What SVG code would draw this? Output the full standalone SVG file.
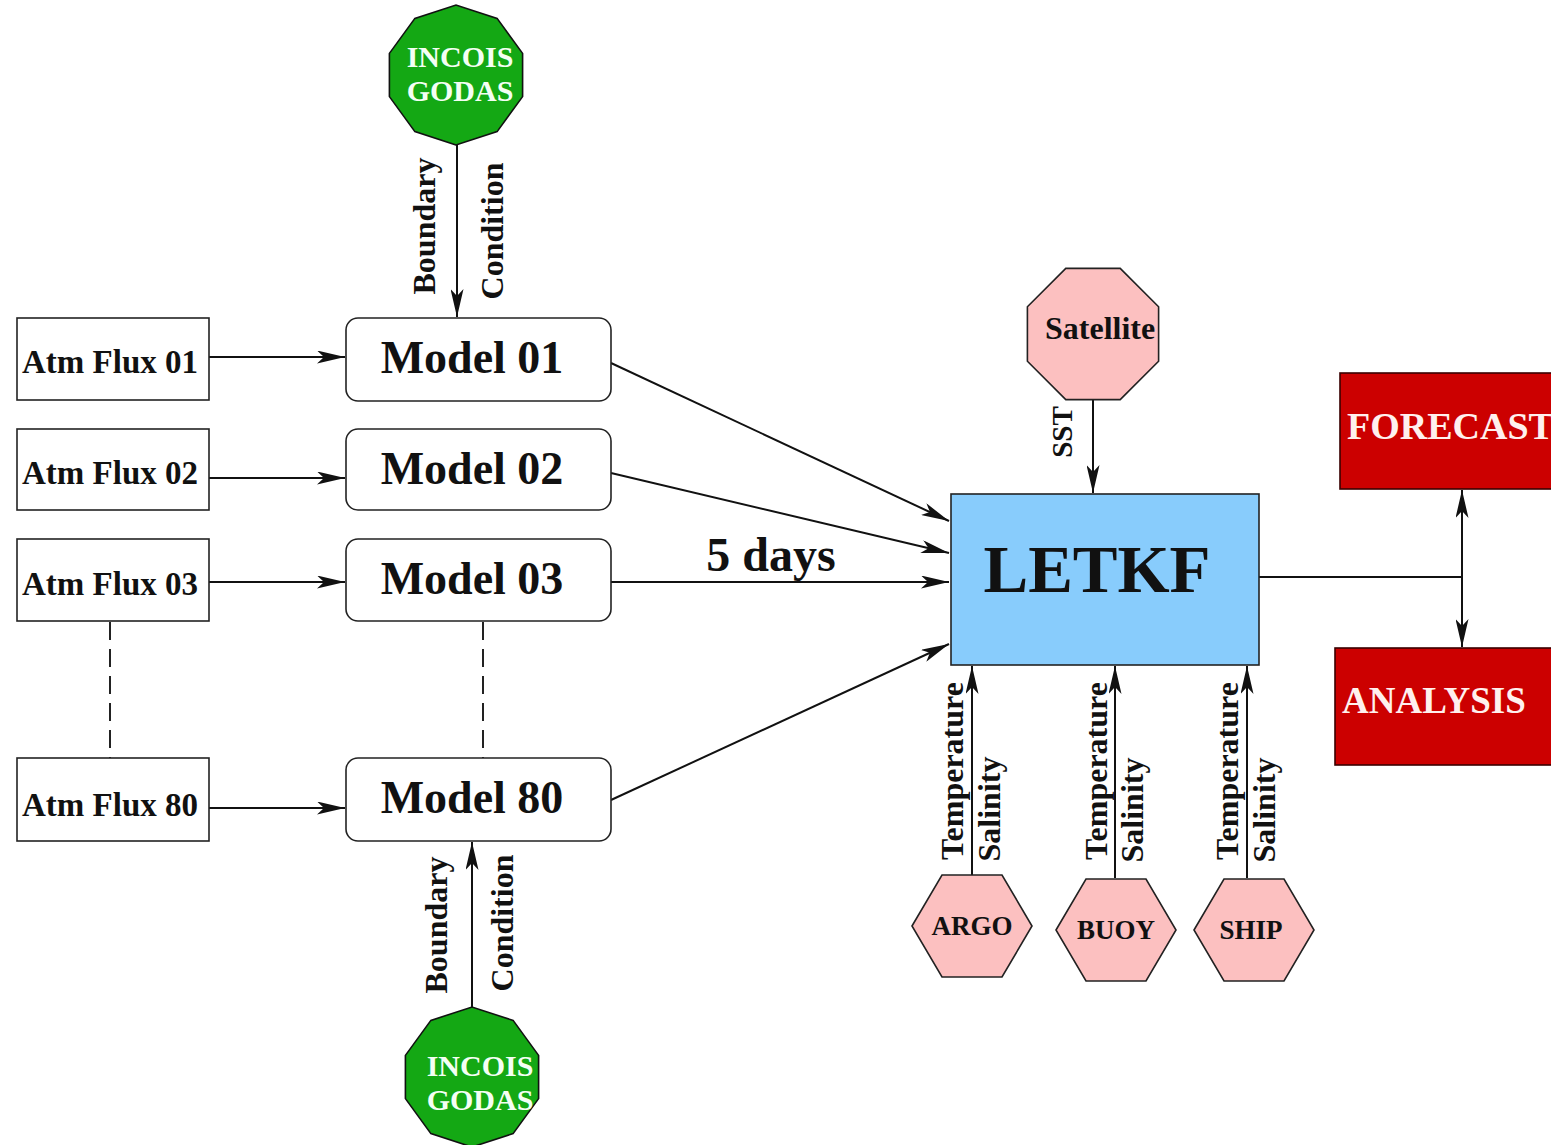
<svg xmlns="http://www.w3.org/2000/svg" xmlns:xlink="http://www.w3.org/1999/xlink" width="1551" height="1145" viewBox="0 0 1551 1145">
  <style>
    text { font-family: "Liberation Serif", "Times New Roman", serif; font-weight: bold; fill: #111; }
    .box { fill: #fff; stroke: #222; stroke-width: 1.6; }
    .conn { fill: none; stroke: #111; stroke-width: 2; }
    .dash { fill: none; stroke: #222; stroke-width: 2; stroke-dasharray: 18 9; }
    .godas { fill: #14a814; stroke: #111; stroke-width: 1.6; }
    .obs { fill: #fcc0c0; stroke: #222; stroke-width: 1.6; }
    .out { fill: #cc0000; stroke: #3a0000; stroke-width: 1.6; }
    .flux { font-size: 33px; }
    .model { font-size: 46px; }
    .white { fill: #f4fff4; font-size: 30px; }
    .outtxt { fill: #fff0ee; }
    .rot { font-size: 32px; text-anchor: middle; }
  </style>
  <defs>
    <marker id="ah" viewBox="0 0 28 13" refX="28" refY="6.5" markerWidth="28" markerHeight="13" orient="auto" markerUnits="userSpaceOnUse">
      <path d="M0,0 L28,6.5 L0,13 L7,6.5 Z" fill="#111"/>
    </marker>
    <polygon id="deca" points="0,70 -41.1,56.6 -66.6,21.6 -66.6,-21.6 -41.1,-56.6 0,-70 41.1,-56.6 66.6,-21.6 66.6,21.6 41.1,56.6"/>
    <polygon id="hexa" points="-60,0 -30,-51 30,-51 60,0 30,51 -30,51"/>
  </defs>

  <!-- connectors -->
  <g id="connectors">
    <!-- boundary conditions -->
    <line class="conn" x1="457" y1="145" x2="457" y2="317" marker-end="url(#ah)"/>
    <line class="conn" x1="472" y1="1007" x2="472" y2="842" marker-end="url(#ah)"/>
    <!-- atmospheric forcing into each model -->
    <line class="conn" x1="209" y1="357" x2="345" y2="357" marker-end="url(#ah)"/>
    <line class="conn" x1="209" y1="478" x2="345" y2="478" marker-end="url(#ah)"/>
    <line class="conn" x1="209" y1="582" x2="345" y2="582" marker-end="url(#ah)"/>
    <line class="conn" x1="209" y1="808" x2="345" y2="808" marker-end="url(#ah)"/>
    <!-- ensemble ellipsis -->
    <line class="dash" x1="110" y1="622" x2="110" y2="758"/>
    <line class="dash" x1="483" y1="622" x2="483" y2="758"/>
    <!-- model states into LETKF -->
    <line class="conn" x1="611" y1="363" x2="949" y2="521" marker-end="url(#ah)"/>
    <line class="conn" x1="611" y1="473" x2="949" y2="553" marker-end="url(#ah)"/>
    <line class="conn" x1="611" y1="582" x2="949" y2="582" marker-end="url(#ah)"/>
    <line class="conn" x1="611" y1="800" x2="949" y2="644" marker-end="url(#ah)"/>
    <!-- observations -->
    <line class="conn" x1="1093" y1="400" x2="1093" y2="493" marker-end="url(#ah)"/>
    <line class="conn" x1="972" y1="875" x2="972" y2="666" marker-end="url(#ah)"/>
    <line class="conn" x1="1115" y1="878" x2="1115" y2="666" marker-end="url(#ah)"/>
    <line class="conn" x1="1247" y1="878" x2="1247" y2="666" marker-end="url(#ah)"/>
    <!-- outputs -->
    <polyline class="conn" points="1259,577 1462,577"/>
    <line class="conn" x1="1462" y1="577" x2="1462" y2="490" marker-end="url(#ah)"/>
    <line class="conn" x1="1462" y1="577" x2="1462" y2="647" marker-end="url(#ah)"/>

    <!-- connector labels -->
    <text class="rot" transform="translate(435,226) rotate(-90)">Boundary</text>
    <text class="rot" transform="translate(503,231) rotate(-90)">Condition</text>
    <text class="rot" transform="translate(447,925) rotate(-90)">Boundary</text>
    <text class="rot" transform="translate(513,923) rotate(-90)">Condition</text>
    <text class="rot" style="font-size:29px" transform="translate(1072,432) rotate(-90)">SST</text>
    <text class="rot" transform="translate(963,771) rotate(-90)">Temperature</text>
    <text class="rot" transform="translate(1000,809) rotate(-90)">Salinity</text>
    <text class="rot" transform="translate(1107,771) rotate(-90)">Temperature</text>
    <text class="rot" transform="translate(1143,810) rotate(-90)">Salinity</text>
    <text class="rot" transform="translate(1238,771) rotate(-90)">Temperature</text>
    <text class="rot" transform="translate(1275,810) rotate(-90)">Salinity</text>
    <text x="771" y="571" style="font-size:48px" text-anchor="middle">5 days</text>
  </g>

  <!-- GODAS boundary sources -->
  <g id="godas-top">
    <use href="#deca" class="godas" transform="translate(456,75)"/>
    <text class="white" x="460" y="67" text-anchor="middle">INCOIS</text>
    <text class="white" x="460" y="101" text-anchor="middle">GODAS</text>
  </g>
  <g id="godas-bottom">
    <use href="#deca" class="godas" transform="translate(472,1077)"/>
    <text class="white" x="480" y="1076" text-anchor="middle">INCOIS</text>
    <text class="white" x="480" y="1110" text-anchor="middle">GODAS</text>
  </g>

  <!-- atmospheric flux boxes -->
  <g id="flux01"><rect class="box" x="17" y="318" width="192" height="82"/><text class="flux" x="110" y="373" text-anchor="middle">Atm Flux 01</text></g>
  <g id="flux02"><rect class="box" x="17" y="429" width="192" height="81"/><text class="flux" x="110" y="484" text-anchor="middle">Atm Flux 02</text></g>
  <g id="flux03"><rect class="box" x="17" y="539" width="192" height="82"/><text class="flux" x="110" y="595" text-anchor="middle">Atm Flux 03</text></g>
  <g id="flux80"><rect class="box" x="17" y="758" width="192" height="83"/><text class="flux" x="110" y="816" text-anchor="middle">Atm Flux 80</text></g>

  <!-- ensemble members -->
  <g id="model01"><rect class="box" x="346" y="318" width="265" height="83" rx="12"/><text class="model" x="472" y="373" text-anchor="middle">Model 01</text></g>
  <g id="model02"><rect class="box" x="346" y="429" width="265" height="81" rx="12"/><text class="model" x="472" y="484" text-anchor="middle">Model 02</text></g>
  <g id="model03"><rect class="box" x="346" y="539" width="265" height="82" rx="12"/><text class="model" x="472" y="594" text-anchor="middle">Model 03</text></g>
  <g id="model80"><rect class="box" x="346" y="758" width="265" height="83" rx="12"/><text class="model" x="472" y="813" text-anchor="middle">Model 80</text></g>

  <!-- assimilation -->
  <g id="letkf">
    <rect x="951" y="494" width="308" height="171" fill="#88ccfc" stroke="#222" stroke-width="1.6"/>
    <text x="1097" y="592" style="font-size:67px" text-anchor="middle">LETKF</text>
  </g>

  <!-- observation platforms -->
  <g id="satellite">
    <polygon class="obs" points="1158.6,361.2 1120.2,399.6 1065.8,399.6 1027.4,361.2 1027.4,306.8 1065.8,268.4 1120.2,268.4 1158.6,306.8"/>
    <text x="1045" y="339" style="font-size:32px">Satellite</text>
  </g>
  <g id="argo">
    <use href="#hexa" class="obs" transform="translate(972,926)"/>
    <text x="972" y="935" style="font-size:27px" text-anchor="middle">ARGO</text>
  </g>
  <g id="buoy">
    <use href="#hexa" class="obs" transform="translate(1116,930)"/>
    <text x="1116" y="939" style="font-size:27px" text-anchor="middle">BUOY</text>
  </g>
  <g id="ship">
    <use href="#hexa" class="obs" transform="translate(1254,930)"/>
    <text x="1251" y="939" style="font-size:27px" text-anchor="middle">SHIP</text>
  </g>

  <!-- products -->
  <g id="forecast">
    <rect class="out" x="1340" y="373" width="230" height="116"/>
    <text class="outtxt" x="1347" y="439" style="font-size:38px">FORECAST</text>
  </g>
  <g id="analysis">
    <rect class="out" x="1335" y="648" width="230" height="117"/>
    <text class="outtxt" x="1342" y="713" style="font-size:37px">ANALYSIS</text>
  </g>
</svg>
